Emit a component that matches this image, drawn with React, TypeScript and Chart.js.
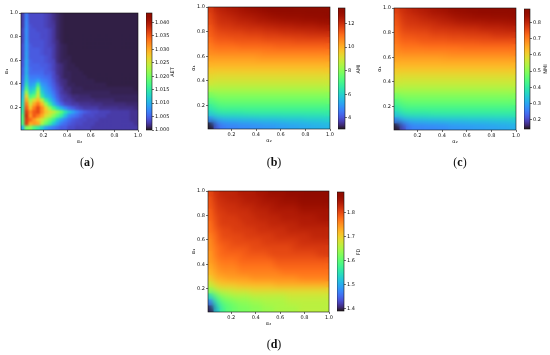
import React, { useEffect, useRef } from "react";
import { Chart, registerables } from "chart.js";

Chart.register(...registerables);

const axisTicks = [0.2, 0.4, 0.6, 0.8, 1.0];
const axisMin = 0.01;
const axisMax = 1;

// AET, stored as thousandths above 1 (rows from y = 1 down to y = 0)
const aetRows = [
  [2.5,6.5,3.5,3.5,3.5,3.5,3,2.5,1.8,1.2,.8,.6,.6,.6,.6,.6,.6,.6,.6,.6,.6,.6,.6,.6,.6,.6,.6,.6,.6,.6],
  [2.5,7,3.5,3.5,3.5,3.5,3,2.5,1.8,1.2,.8,.6,.6,.6,.6,.6,.6,.6,.6,.6,.6,.6,.6,.6,.6,.6,.6,.6,.6,.6],
  [2.5,7.5,3.5,3.5,3.5,3.5,3,2.5,2,1.2,.8,.6,.6,.6,.6,.6,.6,.6,.6,.6,.6,.6,.6,.6,.6,.6,.6,.6,.6,.6],
  [2.5,7.5,4,3.5,3.5,3.5,3,2.5,2.2,1.2,.8,.6,.6,.6,.6,.6,.6,.6,.6,.6,.6,.6,.6,.6,.6,.6,.6,.6,.6,.6],
  [3,8,4,4,3.5,3.5,3.5,3,2.2,1.2,.8,.6,.6,.6,.6,.6,.6,.6,.6,.6,.6,.6,.6,.6,.6,.6,.6,.6,.6,.6],
  [3,8,4,4,4,3.5,3.5,3,2.2,1.2,.8,.6,.6,.6,.6,.6,.6,.6,.6,.6,.6,.6,.6,.6,.6,.6,.6,.6,.6,.6],
  [3,8,4,4,4,3.5,3.5,3,2.2,1.2,.8,.6,.6,.6,.6,.6,.6,.6,.6,.6,.6,.6,.6,.6,.6,.6,.6,.6,.6,.6],
  [3,8.5,4,4,4,4,3.5,3,2.2,1.5,.8,.6,.6,.6,.6,.6,.6,.6,.6,.6,.6,.6,.6,.6,.6,.6,.6,.6,.6,.6],
  [3.5,8.5,4.5,4,4,4,3.5,3,2.5,1.5,1,.8,.6,.6,.6,.6,.6,.6,.6,.6,.6,.6,.6,.6,.6,.6,.6,.6,.6,.6],
  [3.5,8.5,4.5,4.5,4.5,4,3.5,3.5,2.5,1.5,1,.8,.6,.6,.6,.6,.6,.6,.6,.6,.6,.6,.6,.6,.6,.6,.6,.6,.6,.6],
  [3.5,9,4.5,4.5,4.5,4,3.5,3.5,2.5,1.5,1,.8,.6,.6,.6,.6,.6,.6,.6,.6,.6,.6,.6,.6,.6,.6,.6,.6,.6,.6],
  [3.5,9,4.5,4.5,4.5,4.5,4,3.5,2.5,1.5,1,.8,.8,.6,.6,.6,.6,.6,.6,.6,.6,.6,.6,.6,.6,.6,.6,.6,.6,.6],
  [4,9.5,5,4.5,4.5,4.5,4,3.5,3,1.5,1,1,.8,.6,.6,.6,.6,.6,.6,.6,.6,.6,.6,.6,.6,.6,.6,.6,.6,.6],
  [4,9.5,5,5,5,4.5,4.5,4,3,2,1.5,1,.8,.8,.6,.6,.6,.6,.6,.6,.6,.6,.6,.6,.6,.6,.6,.6,.6,.6],
  [4.5,10,5.5,5,5,5,4.5,4,3,2,1.5,1,.8,.8,.8,.6,.6,.6,.6,.6,.6,.6,.6,.6,.6,.6,.6,.6,.6,.6],
  [4.5,10,5.5,5.5,5.5,5.5,4.5,4.5,3.5,2,1.5,1,1,.8,.8,.8,.6,.6,.6,.6,.6,.6,.6,.6,.6,.6,.6,.6,.6,.6],
  [5,11,6.5,6.5,6.5,6,5.5,5,3.5,2.5,1.5,1,1,.8,.8,.8,.8,.6,.6,.6,.6,.6,.6,.6,.6,.6,.6,.6,.6,.6],
  [5.5,12,7.5,7.5,9,7,6.5,5.5,4,2.5,1.8,1.5,1,.8,.8,.8,.8,.8,.8,.6,.6,.6,.6,.6,.6,.6,.6,.6,.6,.6],
  [6,14,8.5,9.5,15,8.5,7.5,6,4.5,3,2,1.5,1,1,.8,.8,.8,.8,.8,.8,.8,.8,.6,.6,.6,.6,.6,.6,.6,.6],
  [7.5,17,10.5,12,20,10.5,8.5,7,5,3.5,2.5,1.5,1.5,1,1,1,.8,.8,.8,.8,.8,.8,.8,.8,.8,.8,.8,.8,.8,.6],
  [9.5,22,13,15,23,12.5,9.5,8,6,4,2.5,2,1.5,1,1,1,1,1,1,1,1,1,1,.8,.8,.8,.8,.8,.8,.8],
  [10.5,27,17,19,25,15,11,9.5,7,4.5,3,2.5,2,1.5,1.5,1.3,1.3,1.3,1,1,1,1,1,1,1,1,1,1,1,1],
  [12,30,22,26,29,24,16,12,8.5,5.5,3.5,2.5,2.5,2,1.5,1.5,1.5,1.5,1.5,1.3,1.3,1.3,1.3,1.3,1,1,1,1,1,1],
  [13,33,25,30,33,29,22,16,11,7.5,5,3.5,3,2.5,2.5,2,2,2,1.8,1.8,1.8,1.5,1.5,1.5,1.5,1.5,1.5,1.3,1.3,1.3],
  [14,35,28,33,36,32,27,22,17,13,10,7.5,5.5,4.5,3.5,3,2.5,2.5,2.5,2.5,2,2,2,2,2,1.8,1.8,1.8,1.8,1.5],
  [15,37,32,35,36,32,28,26,24,21,18,14,11,9,7,5.5,4.5,4,3.5,3.5,3,3,3,2.5,2.5,2.5,2.5,2.5,2,2],
  [17,38,31,35,33,30,26,24,21,18,15,11,7.5,6.5,5.5,4.5,3.5,3.5,3.5,3,3,3,2.5,2.5,2.5,2.5,2.5,2.5,2,2],
  [17,37,34,31,28,25,22,19,16,12,9,7,5.5,4.5,4,3.5,3.5,3,3,3,2.5,2.5,2.5,2.5,2.5,2.5,2.5,2.5,2,2],
  [17,37,30,31,30,23,19,16,12,9,6.5,5.5,4.5,4,3.5,3.5,3,3,3,2.5,2.5,2.5,2.5,2.5,2.5,2.5,2.5,2.5,2.5,2],
  [10,20,21,17,15,12,9,7.5,6.5,5.5,4.5,4.5,3.5,3.5,3,3,3,3,2.5,2.5,2.5,2.5,2.5,2.5,2.5,2.5,2.5,2.5,2.5,2.5],
];

const amiRows = [
  [11.8,12.2,12.3,12.4,12.5,12.6,12.7,12.8,12.9,13,13.1,13.1,13.2,13.2,13.3,13.3,13.3,13.4,13.4,13.4],
  [11.6,12,12.1,12.2,12.3,12.4,12.5,12.5,12.6,12.7,12.8,12.9,12.9,13,13,13,13.1,13.1,13.1,13.2],
  [11.5,11.9,12,12,12.1,12.2,12.2,12.3,12.4,12.4,12.5,12.5,12.6,12.6,12.6,12.7,12.7,12.7,12.8,12.8],
  [11.3,11.7,11.8,11.8,11.9,11.9,12,12,12,12.1,12.1,12.2,12.2,12.2,12.3,12.3,12.3,12.3,12.4,12.4],
  [11.2,11.5,11.5,11.6,11.6,11.6,11.7,11.7,11.7,11.8,11.8,11.8,11.9,11.9,11.9,11.9,12,12,12,12],
  [11,11.3,11.3,11.3,11.4,11.4,11.4,11.4,11.4,11.5,11.5,11.5,11.5,11.5,11.6,11.6,11.6,11.6,11.6,11.6],
  [10.8,11,11,11,11,11.1,11.1,11.1,11.1,11.1,11.1,11.2,11.2,11.2,11.2,11.2,11.2,11.2,11.2,11.2],
  [10.6,10.7,10.7,10.7,10.7,10.7,10.7,10.7,10.7,10.8,10.8,10.8,10.8,10.8,10.8,10.8,10.8,10.8,10.8,10.8],
  [10.3,10.3,10.3,10.3,10.3,10.3,10.3,10.3,10.4,10.4,10.4,10.4,10.4,10.4,10.4,10.4,10.4,10.4,10.4,10.4],
  [10,10,10,10,10,10,10,10,10,10,10,10,10,10,10,10,10,10,10,10],
  [9.6,9.6,9.6,9.6,9.6,9.6,9.6,9.6,9.6,9.6,9.6,9.6,9.6,9.6,9.6,9.6,9.6,9.6,9.6,9.6],
  [9.3,9.2,9.2,9.2,9.2,9.2,9.2,9.2,9.2,9.2,9.2,9.2,9.2,9.2,9.2,9.2,9.2,9.2,9.2,9.2],
  [9,8.9,8.9,8.9,8.9,8.9,8.9,8.9,8.9,8.9,8.9,8.9,8.9,8.9,8.9,8.9,8.9,8.9,8.9,8.9],
  [8.5,8.5,8.5,8.5,8.5,8.5,8.5,8.5,8.5,8.5,8.5,8.5,8.5,8.5,8.5,8.5,8.5,8.5,8.5,8.5],
  [7.8,8,8,8,8,8,8,8,8,8,8,8,8,8,8,8,8,8,8,8],
  [7.2,7.5,7.6,7.6,7.6,7.6,7.6,7.6,7.6,7.6,7.6,7.6,7.6,7.6,7.6,7.6,7.6,7.6,7.6,7.6],
  [6.6,7,7.1,7.1,7.1,7.1,7.1,7.1,7.1,7.1,7.1,7.1,7.1,7.1,7.1,7.1,7.1,7.1,7.1,7.1],
  [6,6.4,6.5,6.5,6.5,6.5,6.6,6.6,6.6,6.6,6.6,6.6,6.6,6.6,6.6,6.6,6.6,6.6,6.6,6.6],
  [4.8,5.3,5.4,5.5,5.5,5.6,5.6,5.6,5.7,5.7,5.7,5.7,5.8,5.8,5.8,5.8,5.9,5.9,5.9,6],
  [3.1,4.2,4.6,4.7,4.7,4.8,4.8,4.9,4.9,5,5,5.1,5.1,5.2,5.2,5.3,5.3,5.4,5.4,5.5],
];

const nmiRows = [
  [.766,.79,.80,.81,.815,.82,.83,.835,.84,.85,.855,.855,.865,.865,.87,.87,.875,.88,.88,.88],
  [.75,.78,.785,.79,.80,.805,.815,.815,.82,.83,.835,.84,.84,.85,.85,.85,.855,.855,.855,.86],
  [.74,.77,.78,.78,.785,.79,.79,.80,.805,.805,.815,.815,.82,.82,.82,.825,.825,.825,.83,.83],
  [.73,.76,.765,.765,.77,.77,.78,.78,.78,.785,.785,.79,.79,.79,.80,.80,.80,.80,.805,.805],
  [.72,.745,.745,.75,.75,.75,.76,.76,.76,.765,.765,.765,.77,.77,.77,.77,.78,.78,.78,.78],
  [.71,.73,.73,.73,.74,.74,.74,.74,.74,.745,.745,.745,.745,.745,.75,.75,.75,.75,.75,.75],
  [.695,.71,.71,.71,.71,.715,.715,.715,.715,.715,.715,.72,.72,.72,.72,.72,.72,.72,.72,.72],
  [.68,.688,.688,.688,.688,.688,.688,.688,.688,.695,.695,.695,.695,.695,.695,.695,.695,.695,.695,.695],
  [.66,.66,.66,.66,.66,.66,.66,.66,.665,.665,.665,.665,.665,.665,.665,.665,.665,.665,.665,.665],
  [.638,.638,.638,.638,.638,.638,.638,.638,.638,.638,.638,.638,.638,.638,.638,.638,.638,.638,.638,.638],
  [.61,.61,.61,.61,.61,.61,.61,.61,.61,.61,.61,.61,.61,.61,.61,.61,.61,.61,.61,.61],
  [.585,.58,.58,.58,.58,.58,.58,.58,.58,.58,.58,.58,.58,.58,.58,.58,.58,.58,.58,.58],
  [.565,.56,.56,.56,.56,.56,.56,.56,.56,.56,.56,.56,.56,.56,.56,.56,.56,.56,.56,.56],
  [.53,.53,.53,.53,.53,.53,.53,.53,.53,.53,.53,.53,.53,.53,.53,.53,.53,.53,.53,.53],
  [.48,.495,.495,.495,.495,.495,.495,.495,.495,.495,.495,.495,.495,.495,.495,.495,.495,.495,.495,.495],
  [.44,.46,.467,.467,.467,.467,.467,.467,.467,.467,.467,.467,.467,.467,.467,.467,.467,.467,.467,.467],
  [.395,.425,.43,.43,.43,.43,.43,.43,.43,.43,.43,.43,.43,.43,.43,.43,.43,.43,.43,.43],
  [.35,.38,.39,.39,.39,.39,.396,.396,.396,.396,.396,.396,.396,.396,.396,.396,.396,.396,.396,.396],
  [.26,.30,.31,.32,.32,.325,.325,.325,.33,.33,.33,.33,.335,.335,.335,.335,.34,.34,.34,.345],
  [.147,.20,.25,.26,.26,.265,.265,.27,.27,.28,.28,.285,.285,.29,.29,.295,.295,.30,.30,.31],
];

const fdRows = [
  [1.80,1.82,1.83,1.83,1.83,1.84,1.84,1.84,1.85,1.85,1.86,1.86,1.86,1.87,1.87,1.87,1.88,1.88,1.88,1.88],
  [1.79,1.82,1.82,1.83,1.83,1.83,1.84,1.84,1.84,1.85,1.85,1.85,1.86,1.86,1.86,1.87,1.87,1.87,1.87,1.87],
  [1.79,1.81,1.82,1.82,1.82,1.83,1.83,1.83,1.84,1.84,1.84,1.85,1.85,1.85,1.85,1.86,1.86,1.86,1.86,1.86],
  [1.78,1.81,1.81,1.82,1.82,1.82,1.82,1.83,1.83,1.83,1.84,1.84,1.84,1.84,1.84,1.85,1.85,1.85,1.85,1.85],
  [1.78,1.80,1.81,1.81,1.81,1.82,1.82,1.82,1.83,1.83,1.83,1.83,1.84,1.84,1.84,1.84,1.84,1.84,1.85,1.85],
  [1.77,1.80,1.81,1.81,1.81,1.81,1.82,1.82,1.82,1.82,1.83,1.83,1.83,1.83,1.83,1.84,1.84,1.84,1.84,1.84],
  [1.77,1.79,1.80,1.80,1.81,1.81,1.81,1.81,1.82,1.82,1.82,1.82,1.82,1.83,1.83,1.83,1.83,1.83,1.83,1.83],
  [1.76,1.78,1.80,1.80,1.80,1.80,1.81,1.81,1.81,1.81,1.81,1.82,1.82,1.82,1.82,1.82,1.82,1.83,1.83,1.83],
  [1.75,1.78,1.79,1.79,1.80,1.80,1.80,1.80,1.80,1.81,1.81,1.81,1.81,1.81,1.81,1.82,1.82,1.82,1.82,1.82],
  [1.75,1.77,1.78,1.79,1.79,1.79,1.79,1.80,1.80,1.80,1.80,1.80,1.80,1.80,1.81,1.81,1.81,1.81,1.81,1.81],
  [1.74,1.77,1.78,1.78,1.78,1.78,1.79,1.79,1.79,1.79,1.80,1.80,1.80,1.80,1.80,1.80,1.80,1.80,1.81,1.81],
  [1.74,1.76,1.77,1.77,1.77,1.78,1.78,1.78,1.78,1.78,1.78,1.79,1.79,1.79,1.79,1.79,1.79,1.79,1.79,1.79],
  [1.73,1.75,1.76,1.76,1.76,1.77,1.77,1.77,1.77,1.77,1.77,1.78,1.78,1.78,1.78,1.78,1.78,1.78,1.78,1.78],
  [1.72,1.74,1.75,1.75,1.75,1.76,1.76,1.76,1.76,1.76,1.76,1.76,1.77,1.77,1.77,1.77,1.77,1.77,1.77,1.77],
  [1.70,1.73,1.73,1.74,1.74,1.74,1.74,1.75,1.75,1.75,1.75,1.75,1.75,1.75,1.75,1.76,1.76,1.76,1.76,1.76],
  [1.67,1.70,1.71,1.71,1.71,1.72,1.72,1.72,1.72,1.72,1.72,1.73,1.73,1.73,1.73,1.73,1.73,1.73,1.73,1.73],
  [1.63,1.66,1.67,1.67,1.68,1.68,1.68,1.69,1.69,1.69,1.69,1.69,1.69,1.69,1.69,1.69,1.69,1.69,1.69,1.69],
  [1.54,1.60,1.63,1.64,1.65,1.65,1.65,1.66,1.66,1.66,1.66,1.66,1.66,1.67,1.67,1.67,1.67,1.67,1.67,1.67],
  [1.46,1.56,1.60,1.61,1.62,1.63,1.63,1.64,1.64,1.65,1.65,1.65,1.65,1.66,1.66,1.66,1.66,1.66,1.66,1.66],
  [1.40,1.52,1.58,1.60,1.61,1.62,1.62,1.63,1.63,1.64,1.64,1.65,1.65,1.65,1.65,1.66,1.66,1.66,1.66,1.66],
];

const aetTicks = [1.0, 1.005, 1.01, 1.015, 1.02, 1.025, 1.03, 1.035, 1.04];
const amiTicks = [4, 6, 8, 10, 12];
const nmiTicks = [0.2, 0.3, 0.4, 0.5, 0.6, 0.7, 0.8];
const fdTicks = [1.4, 1.5, 1.6, 1.7, 1.8];

const aetValues = aetRows.map((r) => r.map((v) => 1 + v / 1000));

const panels = [
  { rows: aetValues, min: 1.0, max: 1.0435, ticks: aetTicks, dec: 3, metric: "AET", caption: "a", xLabel: "α₂", yLabel: "α₁",
    plot: [21, 13, 138, 130], bar: [146, 10, 152, 133], capX: 87, capY: 162, blur: 1.2, metricX: 172 },
  { rows: amiRows, min: 3.06, max: 13.32, ticks: amiTicks, dec: 0, metric: "AMI", caption: "b", xLabel: "α₂", yLabel: "α₁",
    plot: [208, 7, 330, 129], bar: [338, 5, 345, 132], capX: 274, capY: 162, blur: 3, metricX: 358 },
  { rows: nmiRows, min: 0.143, max: 0.884, ticks: nmiTicks, dec: 1, metric: "NMI", caption: "c", xLabel: "α₂", yLabel: "α₁",
    plot: [394, 8, 516, 130], bar: [524, 6, 530, 132], capX: 460, capY: 162, blur: 3, metricX: 545 },
  { rows: fdRows, min: 1.391, max: 1.884, ticks: fdTicks, dec: 1, metric: "FD", caption: "d", xLabel: "α₂", yLabel: "α₁",
    plot: [208, 191, 329, 312], bar: [337, 189, 344, 314], capX: 274, capY: 344, blur: 3, metricX: 358 },
];

function turbo(t: number) {
  const x = Math.min(1, Math.max(0, t));
  const r = 0.13572138 + x * (4.6153926 + x * (-42.66032258 + x * (132.13108234 + x * (-152.94239396 + x * 59.28637943))));
  const g = 0.09140261 + x * (2.19418839 + x * (4.84296658 + x * (-14.18503333 + x * (4.27729857 + x * 2.82956604))));
  const b = 0.1066733 + x * (12.64194608 + x * (-60.58204836 + x * (110.36276771 + x * (-89.90310912 + x * 27.34824973))));
  const c = (v: number) => Math.round(255 * Math.min(1, Math.max(0, v)));
  return `rgb(${c(r)},${c(g)},${c(b)})`;
}

const INK = "#111";
const FONT = { family: "'DejaVu Sans'", size: 5 };
const PADL = 17;
const PADB = 15;
const PADT = 5;
const PADR = 5;

const framePlugin = {
  id: "frame",
  afterDraw(chart: any) {
    const { ctx, chartArea: a } = chart;
    ctx.save();
    ctx.strokeStyle = INK;
    ctx.lineWidth = 0.6;
    ctx.strokeRect(a.left, a.top, a.right - a.left, a.bottom - a.top);
    ctx.restore();
  },
};

// Softens the finished cells as one layer, the way the reference's raster is smoothed.
const softPlugin = {
  id: "soft",
  afterDatasetsDraw(chart: any, _a: any, opts: any) {
    const { ctx, chartArea: a, canvas } = chart;
    const w = Math.round(a.right - a.left);
    const h = Math.round(a.bottom - a.top);
    const layer = document.createElement("canvas");
    layer.width = w;
    layer.height = h;
    layer.getContext("2d")!.drawImage(canvas, a.left, a.top, w, h, 0, 0, w, h);
    ctx.save();
    ctx.beginPath();
    ctx.rect(a.left, a.top, w, h);
    ctx.clip();
    ctx.setTransform(1, 0, 0, 1, 0, 0);
    ctx.filter = `blur(${opts.blur}px)`;
    ctx.drawImage(layer, a.left, a.top);
    ctx.restore();
  },
};

function heatChart(canvas: HTMLCanvasElement, p: (typeof panels)[number]) {
  const n = p.rows.length;
  const step = (axisMax - axisMin) / n;
  const side = (p.plot[2] - p.plot[0]) / n + 1;
  const points: { x: number; y: number }[] = [];
  const colors: string[] = [];
  p.rows.forEach((row, r) =>
    row.forEach((v, c) => {
      points.push({ x: axisMin + (c + 0.5) * step, y: axisMax - (r + 0.5) * step });
      colors.push(turbo((v - p.min) / (p.max - p.min)));
    })
  );
  const tickLabel = (v: any) => Number(v).toFixed(1);
  return new Chart(canvas, {
    type: "scatter",
    data: { datasets: [{ data: points, pointStyle: "rect", pointRadius: side / Math.SQRT2, pointBorderWidth: 0, pointBackgroundColor: colors }] },
    plugins: [framePlugin, softPlugin],
    options: {
      animation: false,
      responsive: false,
      events: [],
      layout: { autoPadding: false, padding: { top: PADT, right: PADR, left: 0, bottom: 0 } },
      plugins: { legend: { display: false }, tooltip: { enabled: false }, soft: { blur: p.blur } } as any,
      scales: {
        x: {
          type: "linear", min: axisMin, max: axisMax,
          afterBuildTicks: (s: any) => { s.ticks = axisTicks.map((value) => ({ value })); },
          afterFit: (s: any) => { s.height = PADB; },
          border: { display: false },
          grid: { drawOnChartArea: false, tickLength: 2, color: INK, lineWidth: 0.6 },
          ticks: { font: FONT, color: INK, padding: 1, maxRotation: 0, autoSkip: false, callback: tickLabel },
          title: { display: true, text: p.xLabel, font: FONT, color: INK, padding: { top: 1, bottom: 0 } },
        },
        y: {
          type: "linear", min: axisMin, max: axisMax,
          afterBuildTicks: (s: any) => { s.ticks = axisTicks.map((value) => ({ value })); },
          afterFit: (s: any) => { s.width = PADL; },
          border: { display: false },
          grid: { drawOnChartArea: false, tickLength: 2, color: INK, lineWidth: 0.6 },
          ticks: { font: FONT, color: INK, padding: 1, autoSkip: false, callback: tickLabel },
          title: { display: true, text: p.yLabel, font: FONT, color: INK, padding: 0 },
        },
      },
    },
  } as any);
}

function barChart(canvas: HTMLCanvasElement, p: (typeof panels)[number]) {
  const fill = (ctx: any) => {
    const a = ctx.chart.chartArea;
    if (!a) return "#000";
    const g = ctx.chart.ctx.createLinearGradient(0, a.bottom, 0, a.top);
    for (let i = 0; i <= 32; i++) g.addColorStop(i / 32, turbo(i / 32));
    return g;
  };
  return new Chart(canvas, {
    type: "bar",
    data: { labels: [p.metric], datasets: [{ data: [[p.min, p.max]], backgroundColor: fill, borderWidth: 0, barPercentage: 1, categoryPercentage: 1 }] },
    plugins: [framePlugin],
    options: {
      animation: false,
      responsive: false,
      events: [],
      layout: { autoPadding: false, padding: { top: 1, bottom: 1, left: 0, right: 0 } },
      plugins: { legend: { display: false }, tooltip: { enabled: false } },
      scales: {
        x: { display: false },
        y: {
          position: "right", min: p.min, max: p.max,
          afterBuildTicks: (s: any) => { s.ticks = p.ticks.map((value) => ({ value })); },
          afterFit: (s: any) => { s.width = 22; },
          border: { display: false },
          grid: { drawOnChartArea: false, tickLength: 2, color: INK, lineWidth: 0.6 },
          ticks: { font: FONT, color: INK, padding: 1, autoSkip: false, callback: (v: any) => Number(v).toFixed(p.dec) },
        },
      },
    },
  } as any);
}

function Panel({ p }: { p: (typeof panels)[number] }) {
  const heat = useRef<HTMLCanvasElement>(null);
  const bar = useRef<HTMLCanvasElement>(null);
  useEffect(() => {
    const a = heatChart(heat.current!, p);
    const b = barChart(bar.current!, p);
    return () => { a.destroy(); b.destroy(); };
  }, [p]);
  const [x0, y0, x1, y1] = p.plot;
  const [bx0, by0, bx1, by1] = p.bar;
  return (
    <>
      <canvas ref={heat} width={x1 - x0 + PADL + PADR} height={y1 - y0 + PADB + PADT}
        style={{ position: "absolute", left: x0 - PADL, top: y0 - PADT }} />
      <canvas ref={bar} width={bx1 - bx0 + 22} height={by1 - by0 + 2}
        style={{ position: "absolute", left: bx0, top: by0 - 1 }} />
      <div style={{ position: "absolute", left: p.metricX, top: (by0 + by1) / 2, font: "5px 'DejaVu Sans'", color: INK,
        transform: "translate(-50%,-50%) rotate(-90deg)", whiteSpace: "nowrap" }}>{p.metric}</div>
      <div style={{ position: "absolute", left: p.capX, top: p.capY, font: "12px 'Liberation Serif'", color: "#111",
        transform: "translate(-50%,-50%)", whiteSpace: "nowrap" }}>(<b>{p.caption}</b>)</div>
    </>
  );
}

export default function App() {
  return (
    <div style={{ position: "absolute", left: 0, top: 0, width: 550, height: 355, overflow: "hidden", background: "#fff", filter: "blur(0.35px)" }}>
      {panels.map((p) => <Panel key={p.caption} p={p} />)}
    </div>
  );
}
